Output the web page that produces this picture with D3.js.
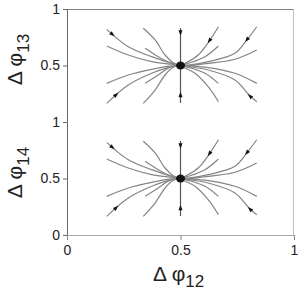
<!DOCTYPE html>
<html>
<head>
<meta charset="utf-8">
<script src="https://cdn.jsdelivr.net/npm/d3@7/dist/d3.min.js"></script>
<style>
  html, body { margin: 0; padding: 0; background: #fff; }
  svg { display: block; font-family: "Liberation Sans", Arial, sans-serif; }
</style>
</head>
<body>
<div id="chart"></div>
<script>
// tick labels
const xTicks = [0, 0.5, 1];
const yTicksTop = [0.5, 1];
const yTicksBottom = [0, 0.5, 1];
const panelSubscripts = ['13', '14'];

// stable fixed point
const fixedPoint = [0.5, 0.5];

// trajectories (Δφ12, Δφ1k), each ends at the fixed point
const trajLeftUpper = [
  [[0.175, 0.820], [0.270, 0.666], [0.373, 0.578], [0.461, 0.519]],
  [[0.175, 0.673], [0.270, 0.593], [0.373, 0.534], [0.461, 0.511]],
  [[0.336, 0.829], [0.388, 0.726], [0.432, 0.593], [0.468, 0.525]],
  [[0.344, 0.652], [0.402, 0.578], [0.454, 0.525]]
];
const trajLeftLower = [
  [[0.175, 0.165], [0.270, 0.327], [0.373, 0.431], [0.461, 0.490]],
  [[0.175, 0.342], [0.270, 0.416], [0.373, 0.466], [0.461, 0.496]],
  [[0.336, 0.165], [0.388, 0.283], [0.432, 0.416], [0.468, 0.484]],
  [[0.344, 0.342], [0.402, 0.416], [0.454, 0.484]]
];
const trajRightUpper = [
  [[0.836, 0.843], [0.792, 0.726], [0.740, 0.608], [0.622, 0.534], [0.534, 0.504]],
  [[0.836, 0.637], [0.740, 0.555], [0.622, 0.519], [0.534, 0.500]],
  [[0.667, 0.843], [0.630, 0.726], [0.578, 0.593], [0.520, 0.519]],
  [[0.667, 0.673], [0.608, 0.578], [0.534, 0.519]]
];
const trajRightLower = [
  [[0.836, 0.180], [0.806, 0.230], [0.740, 0.372], [0.622, 0.460], [0.534, 0.490]],
  [[0.836, 0.342], [0.740, 0.431], [0.622, 0.481], [0.534, 0.496]],
  [[0.667, 0.180], [0.622, 0.312], [0.564, 0.431], [0.512, 0.484]],
  [[0.667, 0.342], [0.608, 0.431], [0.534, 0.484]]
];
const trajVertical = [
  [[0.5, 0.832]],
  [[0.5, 0.168]]
];

const trajectories = [
  ...trajLeftUpper, ...trajLeftLower, ...trajRightUpper, ...trajRightLower
].map(t => [...t, fixedPoint]);
const verticals = trajVertical.map(t => [...t, fixedPoint]);

// [trajectory index, fraction along it] for arrowheads
const arrowAt = [[0, 0.09], [4, 0.15], [8, 0.18], [10, 0.3], [12, 0.1]];
const arrowAtVertical = [[0, 0.13], [1, 0.22]];

const W = 300, H = 294;
const plotLeft = 67, plotRight = 294, plotTop = 9, plotBottom = 235;
const plotMid = (plotTop + plotBottom) / 2;

const svg = d3.select('#chart').append('svg')
  .attr('width', W).attr('height', H);

const x = d3.scaleLinear().domain([0, 1]).range([plotLeft, plotRight]);

const lineGen = (y) => d3.line()
  .x(d => x(d[0]))
  .y(d => y(d[1]))
  .curve(d3.curveCatmullRom);

// frame: top and right
svg.append('line')
  .attr('x1', plotLeft).attr('x2', plotRight).attr('y1', plotTop + 0.5).attr('y2', plotTop + 0.5)
  .attr('stroke', '#808080').attr('stroke-width', 1);
svg.append('line')
  .attr('x1', plotRight - 0.5).attr('x2', plotRight - 0.5).attr('y1', plotTop).attr('y2', plotBottom)
  .attr('stroke', '#c0c0c0').attr('stroke-width', 1);

function drawArrow(g, pathNode, frac) {
  const L = pathNode.getTotalLength();
  const p = pathNode.getPointAtLength(L * frac);
  const q = pathNode.getPointAtLength(Math.min(L, L * frac + 1));
  const ang = Math.atan2(q.y - p.y, q.x - p.x) * 180 / Math.PI;
  g.append('path')
    .attr('d', 'M3,0 L-2.5,-2 L-2.5,2 Z')
    .attr('transform', `translate(${p.x},${p.y}) rotate(${ang})`)
    .attr('fill', '#111');
}

panelSubscripts.forEach((sub, i) => {
  const y0 = i === 0 ? plotTop : plotMid;
  const y1 = i === 0 ? plotMid : plotBottom;
  const y = d3.scaleLinear().domain([0, 1]).range([y1, y0]);
  const g = svg.append('g');

  const curves = g.selectAll('path.traj').data(trajectories).join('path')
    .attr('class', 'traj')
    .attr('d', lineGen(y))
    .attr('fill', 'none')
    .attr('stroke', '#858585')
    .attr('stroke-width', 1.2);

  const vlines = g.selectAll('path.vert').data(verticals).join('path')
    .attr('class', 'vert')
    .attr('d', lineGen(y))
    .attr('fill', 'none')
    .attr('stroke', '#555')
    .attr('stroke-width', 1.2);

  arrowAt.forEach(([k, f]) => drawArrow(g, curves.nodes()[k], f));
  arrowAtVertical.forEach(([k, f]) => drawArrow(g, vlines.nodes()[k], f));

  g.append('ellipse')
    .attr('cx', x(fixedPoint[0])).attr('cy', y(fixedPoint[1]))
    .attr('rx', 4.5).attr('ry', 4)
    .attr('fill', '#111');

  // y axis
  const ay = svg.append('g')
    .attr('transform', `translate(${plotLeft},0)`)
    .call(d3.axisLeft(y).tickValues(i === 0 ? yTicksTop : yTicksBottom)
      .tickFormat(d3.format('')).tickSize(4).tickSizeOuter(0).tickPadding(3));
  ay.select('.domain').attr('stroke', '#666');
  ay.selectAll('.tick line').attr('stroke', '#666');
  ay.selectAll('.tick text').attr('font-size', 14).attr('fill', '#222')
    .attr('font-family', '"Liberation Sans", Arial, sans-serif');

  // y title
  const ty = svg.append('text')
    .attr('transform', `translate(22,${y(0.5) - 6}) rotate(-90)`)
    .attr('text-anchor', 'middle')
    .attr('font-size', 21)
    .attr('fill', '#222')
    .text('Δ φ');
  ty.append('tspan').attr('dy', 7).attr('font-size', 17).text(sub);
});

// x axis
const ax = svg.append('g')
  .attr('transform', `translate(0,${plotBottom})`)
  .call(d3.axisBottom(x).tickValues(xTicks).tickFormat(d3.format(''))
    .tickSize(5).tickSizeOuter(0).tickPadding(5));
ax.select('.domain').attr('stroke', '#aaa');
ax.selectAll('.tick line').attr('stroke', '#888');
ax.selectAll('.tick text').attr('font-size', 14).attr('fill', '#222')
  .attr('font-family', '"Liberation Sans", Arial, sans-serif');

// x title
const tx = svg.append('text')
  .attr('x', 153).attr('y', 281)
  .attr('font-size', 21)
  .attr('fill', '#222')
  .text('Δ φ');
tx.append('tspan').attr('dy', 6).attr('font-size', 17).text('12');
</script>
</body>
</html>
